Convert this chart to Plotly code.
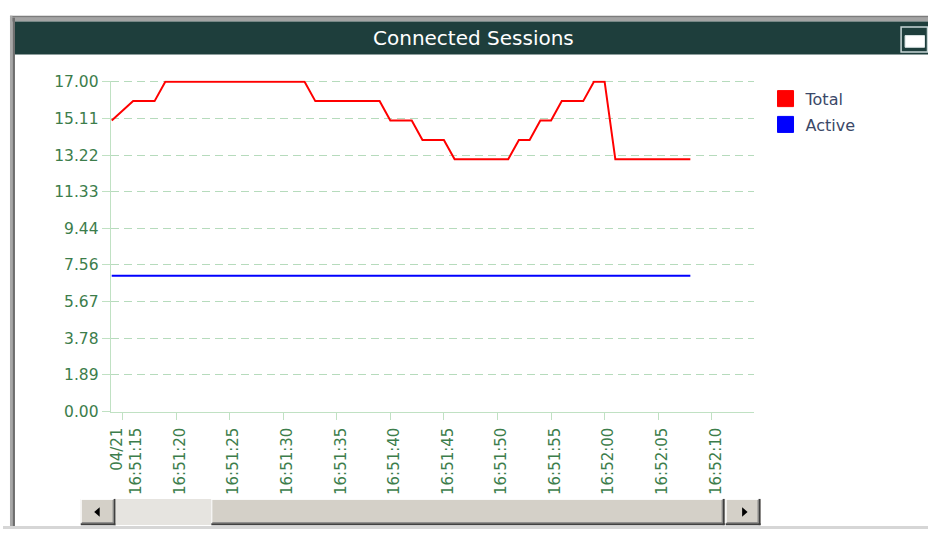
import plotly.graph_objects as go

W, H = 928, 538
DAY = "2024-04-21 "

# Session counts, one sample per second
sample_times = [
    "16:51:14", "16:51:16", "16:51:17", "16:51:18", "16:51:19",
    "16:51:20", "16:51:21", "16:51:22", "16:51:23", "16:51:24",
    "16:51:25", "16:51:26", "16:51:27", "16:51:28", "16:51:29",
    "16:51:30", "16:51:31", "16:51:32", "16:51:33", "16:51:34",
    "16:51:35", "16:51:36", "16:51:37", "16:51:38", "16:51:39",
    "16:51:40", "16:51:41", "16:51:42", "16:51:43", "16:51:44",
    "16:51:45", "16:51:46", "16:51:47", "16:51:48", "16:51:49",
    "16:51:50", "16:51:51", "16:51:52", "16:51:53", "16:51:54",
    "16:51:55", "16:51:56", "16:51:57", "16:51:58", "16:51:59",
    "16:52:00", "16:52:01", "16:52:02", "16:52:03", "16:52:04",
    "16:52:05", "16:52:06", "16:52:07", "16:52:08",
]
total_sessions = [
    15, 16, 16, 16, 17,
    17, 17, 17, 17, 17,
    17, 17, 17, 17, 17,
    17, 17, 17, 16, 16,
    16, 16, 16, 16, 16,
    15, 15, 15, 14, 14,
    14, 13, 13, 13, 13,
    13, 13, 14, 14, 15,
    15, 16, 16, 16, 17,
    17, 13, 13, 13, 13,
    13, 13, 13, 13,
]
active_sessions = [
    7, 7, 7, 7, 7,
    7, 7, 7, 7, 7,
    7, 7, 7, 7, 7,
    7, 7, 7, 7, 7,
    7, 7, 7, 7, 7,
    7, 7, 7, 7, 7,
    7, 7, 7, 7, 7,
    7, 7, 7, 7, 7,
    7, 7, 7, 7, 7,
    7, 7, 7, 7, 7,
    7, 7, 7, 7,
]

x_tick_times = [
    "16:51:15", "16:51:20", "16:51:25", "16:51:30", "16:51:35", "16:51:40",
    "16:51:45", "16:51:50", "16:51:55", "16:52:00", "16:52:05", "16:52:10",
]
x_tick_labels = [
    "04/21<br>16:51:15", "16:51:20", "16:51:25", "16:51:30", "16:51:35",
    "16:51:40", "16:51:45", "16:51:50", "16:51:55", "16:52:00", "16:52:05",
    "16:52:10",
]
y_tick_labels = [
    "0.00", "1.89", "3.78", "5.67", "7.56",
    "9.44", "11.33", "13.22", "15.11", "17.00",
]

FONT = "DejaVu Sans, Verdana, sans-serif"
TEAL = "#1e3e3c"
GRID_GREEN = "#b6dbbc"
AXIS_GREEN = "#c0e1c3"
LABEL_GREEN = "#3c7d4b"
FACE = "#d4d0c8"

x_times = [DAY + t for t in sample_times]


def px(x):
    return x / W


def py(y):
    return 1 - y / H


def rect(x0, y0, x1, y1, fill, line_color=None, lw=0):
    return dict(type="rect", xref="paper", yref="paper",
                x0=px(x0), x1=px(x1), y0=py(y0), y1=py(y1),
                fillcolor=fill, layer="above",
                line=dict(width=lw, color=line_color or fill))


def seg(x0, y0, x1, y1, color, lw=1):
    return dict(type="line", xref="paper", yref="paper",
                x0=px(x0), x1=px(x1), y0=py(y0), y1=py(y1),
                layer="above", line=dict(width=lw, color=color))


def tri(points, color):
    path = "M " + " L ".join(f"{px(a)},{py(b)}" for a, b in points) + " Z"
    return dict(type="path", xref="paper", yref="paper", path=path,
                fillcolor=color, line=dict(width=0, color=color), layer="above")


def bevel_box(x0, y0, x1, y1):
    # raised 3D button / thumb look
    return [
        rect(x0, y0, x1, y1, FACE),
        seg(x0, y0 + 0.5, x1, y0 + 0.5, "#ffffff"),
        seg(x0 + 0.5, y0, x0 + 0.5, y1, "#ffffff"),
        seg(x0, y1 - 1, x1, y1 - 1, "#404040", 2),
        seg(x1 - 1, y0, x1 - 1, y1, "#404040", 2),
        seg(x0 + 1, y1 - 2.5, x1 - 2, y1 - 2.5, "#808080"),
        seg(x1 - 2.5, y0 + 1, x1 - 2.5, y1 - 2, "#808080"),
    ]


fig = go.Figure()

fig.add_trace(go.Scatter(
    x=x_times, y=total_sessions, mode="lines", name="Total",
    line=dict(color="#ff0000", width=2), showlegend=False,
))
fig.add_trace(go.Scatter(
    x=x_times, y=active_sessions, mode="lines", name="Active",
    line=dict(color="#0000ff", width=2), showlegend=False,
))
# square swatches for the legend
for name, color in (("Total", "#ff0000"), ("Active", "#0000ff")):
    fig.add_trace(go.Scatter(
        x=[None], y=[None], mode="markers", name=name, legendgroup=name,
        marker=dict(symbol="square", size=16, color=color,
                    line=dict(width=1, color=color)),
    ))

shapes = []
# window frame and title bar
shapes.append(rect(7, 9, W, 11, "#7c7c7c"))
shapes.append(rect(7, 11, W, 15, "#a4a4a4"))
shapes.append(rect(7, 9, 9.5, H, "#a8a8a8"))
shapes.append(rect(9.5, 11, 12, H, "#6e6e6e"))
shapes.append(rect(12, 15, W, 49, TEAL))
# maximise button in the title bar
shapes.append(rect(901, 20.5, 927.5, 46.5, "rgba(0,0,0,0)", "#c8d6d6", 1.5))
shapes.append(rect(905, 29.5, 924.5, 41.5, "#ffffff", "#dfe8e8", 1))
# bottom edge
shapes.append(rect(0, 535, W, H, "#d6d6d6"))
# horizontal scrollbar
shapes += bevel_box(78, 507, 113, 534)
shapes.append(rect(113, 507, 209, 534, "#e6e4e0"))
shapes += bevel_box(209, 507, 724, 534)
shapes += bevel_box(725, 507, 760, 534)
shapes.append(tri([(91.5, 520.5), (97, 515.5), (97, 525.5)], "#000000"))
shapes.append(tri([(747, 520.5), (741.5, 515.5), (741.5, 525.5)], "#000000"))

y_top_val = 17.06
plot_top_px = 417 - y_top_val * 20

fig.update_layout(
    width=W, height=H,
    margin=dict(l=0, r=0, t=0, b=0),
    paper_bgcolor="#ffffff", plot_bgcolor="#ffffff",
    showlegend=True,
    legend=dict(
        x=px(765), xanchor="left", y=py(77), yanchor="top",
        font=dict(family=FONT, size=16, color="#3b4868"),
        bgcolor="rgba(0,0,0,0)", borderwidth=0,
        itemsizing="trace", traceorder="grouped", tracegroupgap=2,
    ),
    shapes=shapes,
    annotations=[dict(
        text="Connected Sessions", xref="paper", yref="paper",
        x=px(472), y=py(32), xanchor="center", yanchor="middle",
        showarrow=False, font=dict(family=FONT, size=20, color="#ffffff"),
    )],
    xaxis=dict(
        domain=[px(108), px(753)],
        type="date",
        range=[DAY + "16:51:13.9", DAY + "16:52:13.9"],
        tickmode="array",
        tickvals=[DAY + t for t in x_tick_times],
        ticktext=x_tick_labels,
        tickangle=-90,
        ticks="outside", ticklen=7, tickcolor=AXIS_GREEN, tickwidth=1,
        ticklabelshift=4, ticklabelstandoff=2,
        showline=True, linecolor=AXIS_GREEN, linewidth=1,
        showgrid=False, zeroline=False,
        tickfont=dict(family=FONT, size=15, color=LABEL_GREEN),
        fixedrange=True,
    ),
    yaxis=dict(
        domain=[py(417), py(plot_top_px)],
        range=[0, y_top_val],
        tickmode="array",
        tickvals=[float(s) for s in y_tick_labels],
        ticktext=y_tick_labels,
        ticks="outside", ticklen=8, tickcolor=AXIS_GREEN, tickwidth=1,
        showline=True, linecolor=AXIS_GREEN, linewidth=1,
        showgrid=True, gridcolor=GRID_GREEN, gridwidth=1, griddash="8px,5px",
        zeroline=False,
        tickfont=dict(family=FONT, size=15.5, color=LABEL_GREEN),
        fixedrange=True,
    ),
)

fig.write_html("out.html", config={"displayModeBar": False})
